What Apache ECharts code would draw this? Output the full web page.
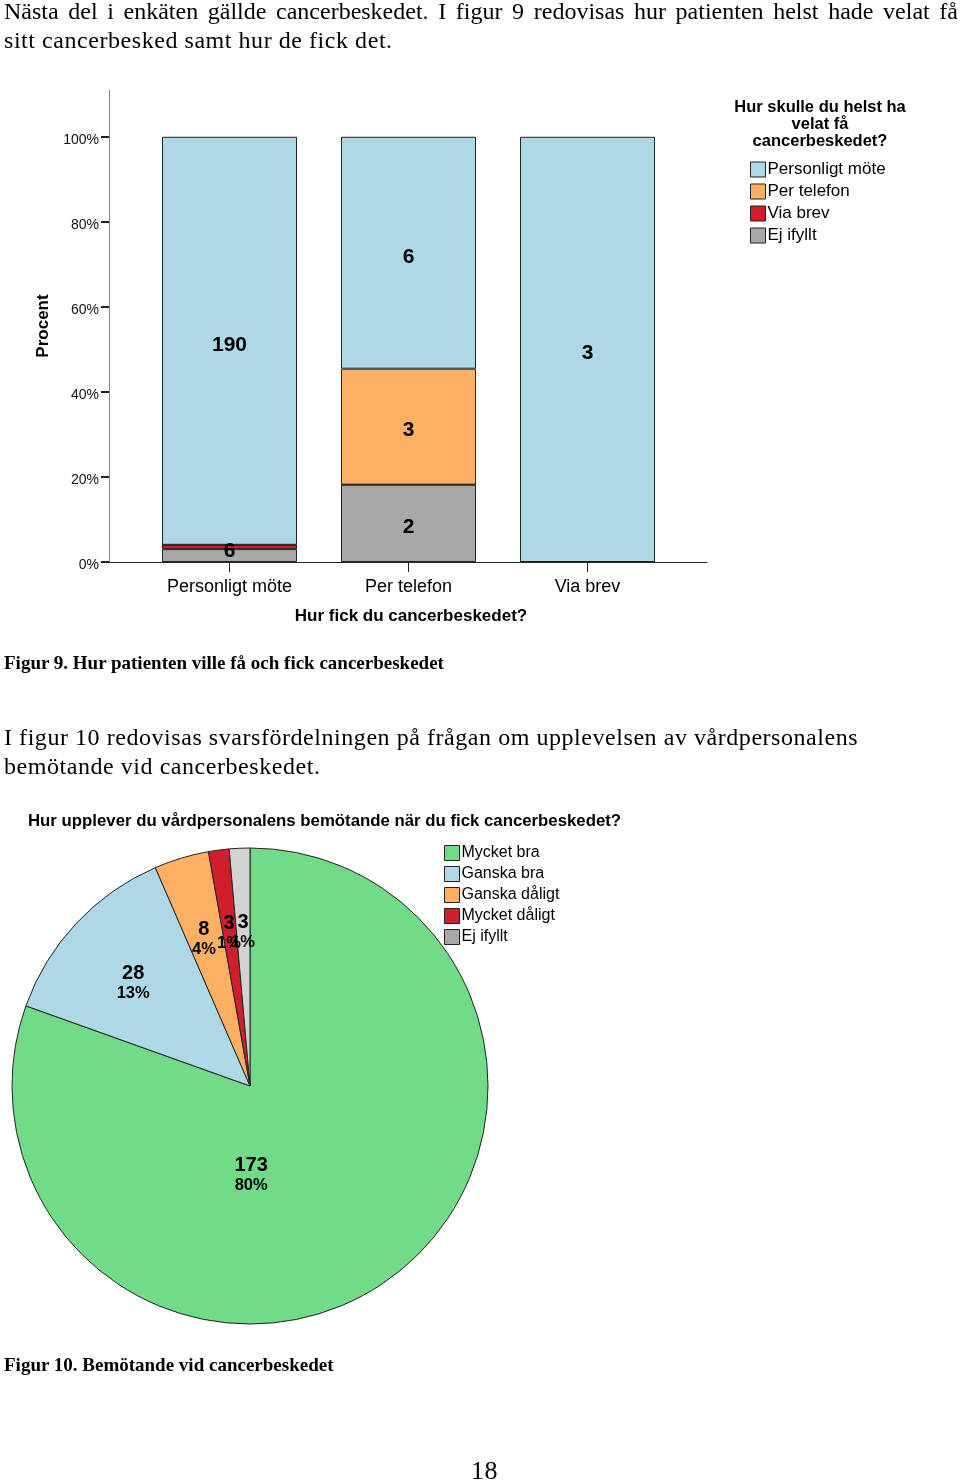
<!DOCTYPE html>
<html>
<head>
<meta charset="utf-8">
<script src="https://cdn.jsdelivr.net/npm/echarts@6/dist/echarts.min.js"></script>
<style>
  html, body { margin: 0; padding: 0; background: #fff; }
  #page { position: relative; width: 960px; height: 1481px; overflow: hidden; }
  #chart { position: absolute; left: 0; top: 0; width: 960px; height: 1481px; }
  .t { position: absolute; font-family: "Liberation Serif", "DejaVu Serif", serif; font-size: 24px; letter-spacing: 0.55px; line-height: 29px; color: #000; white-space: nowrap; }
  .j { text-align: justify; text-align-last: justify; letter-spacing: 0; }
  .cap { font-weight: bold; font-size: 19px; letter-spacing: 0; }
</style>
</head>
<body>
<div id="page">
  <div id="chart"></div>
  <div class="t j" style="left:4px; top:-3px; width:954px;">Nästa del i enkäten gällde cancerbeskedet. I figur 9 redovisas hur patienten helst hade velat få</div>
  <div class="t" style="left:4px; top:26px;">sitt cancerbesked samt hur de fick det.</div>
  <div class="t cap" style="left:4px; top:648px;">Figur 9. Hur patienten ville få och fick cancerbeskedet</div>
  <div class="t" style="left:4px; top:723px;">I figur 10 redovisas svarsfördelningen på frågan om upplevelsen av vårdpersonalens</div>
  <div class="t" style="left:4px; top:752px;">bemötande vid cancerbeskedet.</div>
  <div class="t cap" style="left:4px; top:1350px;">Figur 10. Bemötande vid cancerbeskedet</div>
  <div class="t" style="left:471px; top:1456px; font-size:26px;">18</div>
</div>
<script>
// ---- Figure 9 data ----
const receivedCategories = ['Personligt möte', 'Per telefon', 'Via brev'];
const preferredNames = ['Personligt möte', 'Per telefon', 'Via brev', 'Ej ifyllt'];
const prefPersonligt = [190, 6, 3];
const prefTelefon = [0, 3, 0];
const prefBrev = [2, 0, 0];
const prefEjIfyllt = [6, 2, 0];
const yTicks = [0, 20, 40, 60, 80, 100];

// ---- Figure 10 data ----
const pieNames = ['Mycket bra', 'Ganska bra', 'Ganska dåligt', 'Mycket dåligt', 'Ej ifyllt'];
const pieValues = [173, 28, 8, 3, 3];

const FONT = '"Liberation Sans", Arial, sans-serif';
const barColors = {
  'Personligt möte': '#ADD8E6',
  'Per telefon': '#FDB064',
  'Via brev': '#D01F2A',
  'Ej ifyllt': '#A8A8A8'
};
const pieColors = ['#71DB87', '#ADD8E6', '#FDB064', '#D01F2A', '#D3D3D3'];

const totals = receivedCategories.map((_, i) =>
  prefPersonligt[i] + prefTelefon[i] + prefBrev[i] + prefEjIfyllt[i]);
const countsByName = {
  'Personligt möte': prefPersonligt,
  'Per telefon': prefTelefon,
  'Via brev': prefBrev,
  'Ej ifyllt': prefEjIfyllt
};
// stacking order bottom -> top
const stackOrder = ['Ej ifyllt', 'Via brev', 'Per telefon', 'Personligt möte'];

const barSeries = stackOrder.map((name, si) => ({
  name: name,
  type: 'bar',
  stack: 'pref',
  xAxisIndex: 1,
  yAxisIndex: 1,
  barWidth: 135,
  itemStyle: { color: barColors[name], borderColor: '#222', borderWidth: 1 },
  label: {
    show: true,
    position: 'inside',
    color: '#000',
    fontFamily: FONT,
    fontWeight: 'bold',
    fontSize: 21,
    formatter: p => {
      const c = countsByName[name][p.dataIndex];
      return (p.value >= 2) ? String(c) : '';
    }
  },
  labelLayout: p => ({ dy: (name === 'Ej ifyllt' && p.dataIndex === 0) ? -4 : 4, hideOverlap: false }),
  data: countsByName[name].map((c, i) => c / totals[i] * 100)
}));

const pieTotal = pieValues.reduce((a, b) => a + b, 0);
const pieData = pieNames.map((n, i) => ({ name: n, value: pieValues[i] }));

const chart = echarts.init(document.getElementById('chart'), null, { renderer: 'canvas' });
chart.setOption({
  animation: false,
  textStyle: { fontFamily: FONT },
  grid: [
    { left: 109, top: 90, width: 598, height: 472 },
    { left: 140, top: 90, width: 537, height: 472 }
  ],
  xAxis: [
    {
      gridIndex: 0, type: 'value', min: 0, max: 1,
      axisLine: { show: true, lineStyle: { color: '#222', width: 1 } },
      axisTick: { show: false }, axisLabel: { show: false }, splitLine: { show: false }
    },
    {
      gridIndex: 1, type: 'category', data: receivedCategories,
      axisLine: { show: false },
      axisTick: { show: true, alignWithLabel: true, length: 10, lineStyle: { color: '#222', width: 1 } },
      axisLabel: { color: '#000', fontSize: 18, margin: 16, fontFamily: FONT },
      name: 'Hur fick du cancerbeskedet?',
      nameLocation: 'middle', nameGap: 46,
      nameTextStyle: { color: '#000', fontWeight: 'bold', fontSize: 17, fontFamily: FONT, padding: [0, 0, 0, 5] }
    }
  ],
  yAxis: [
    {
      gridIndex: 0, type: 'value', min: 0, max: 111,
      axisLine: { show: true, lineStyle: { color: '#888', width: 1 } },
      axisTick: { show: true, length: 8, customValues: yTicks, lineStyle: { color: '#222', width: 2 } },
      axisLabel: {
        color: '#111', fontSize: 14, margin: 10, customValues: yTicks, fontFamily: FONT,
        formatter: v => '{p|' + v + '%}',
        rich: { p: { fontSize: 14, fontFamily: FONT, color: '#111', padding: [6, 0, 0, 0] } }
      },
      splitLine: { show: false },
      name: 'Procent', nameLocation: 'middle', nameGap: 55, nameRotate: 90,
      nameTextStyle: { color: '#000', fontWeight: 'bold', fontSize: 17, fontFamily: FONT }
    },
    { gridIndex: 1, type: 'value', min: 0, max: 111, show: false }
  ],
  title: [
    {
      text: 'Hur skulle du helst ha\nvelat få\ncancerbeskedet?',
      left: 815, top: 94, textAlign: 'center',
      textStyle: { fontFamily: FONT, fontWeight: 'bold', fontSize: 16.5, lineHeight: 17, color: '#000' }
    },
    {
      text: 'Hur upplever du vårdpersonalens bemötande när du fick cancerbeskedet?',
      left: 23, top: 808,
      textStyle: { fontFamily: FONT, fontWeight: 'bold', fontSize: 16.8, color: '#000' }
    }
  ],
  legend: [
    {
      orient: 'vertical', left: 745, top: 156,
      data: preferredNames,
      itemWidth: 15, itemHeight: 15, itemGap: 5,
      icon: 'rect',
      itemStyle: { borderColor: '#222', borderWidth: 1 },
      textStyle: { fontFamily: FONT, fontSize: 17, lineHeight: 17, color: '#000', padding: [0, 0, 0, -3] },
      selectedMode: false
    },
    {
      orient: 'vertical', left: 439, top: 840,
      data: pieNames,
      itemWidth: 15, itemHeight: 15, itemGap: 5,
      icon: 'rect',
      itemStyle: { borderColor: '#222', borderWidth: 1 },
      textStyle: { fontFamily: FONT, fontSize: 16, lineHeight: 15.8, color: '#000', padding: [0, 0, 0, -3] },
      selectedMode: false
    }
  ],
  series: barSeries.concat([
    {
      name: 'bemotande',
      type: 'pie',
      center: [250, 1086],
      radius: [0, 238],
      startAngle: 90,
      clockwise: true,
      label: { show: false },
      labelLine: { show: false },
      itemStyle: { borderColor: '#222', borderWidth: 1 },
      color: pieColors,
      data: pieData
    },
    {
      name: 'bemotandeLabels',
      type: 'pie',
      center: [250, 1086],
      radius: [76, 238],
      startAngle: 90,
      clockwise: true,
      silent: true,
      legendHoverLink: false,
      avoidLabelOverlap: false,
      labelLayout: { hideOverlap: false },
      itemStyle: { color: 'rgba(0,0,0,0)', borderWidth: 0 },
      labelLine: { show: false },
      label: {
        show: true,
        position: 'inside',
        offset: [0, 6],
        formatter: p => '{a|' + p.value + '}\n{b|' + Math.round(p.value / pieTotal * 100) + '%}',
        rich: {
          a: { fontFamily: FONT, fontWeight: 'bold', fontSize: 20, color: '#000', lineHeight: 21 },
          b: { fontFamily: FONT, fontWeight: 'bold', fontSize: 16.5, color: '#000', lineHeight: 19 }
        }
      },
      data: pieData.map((d, i) => i === 0
        ? { name: d.name, value: d.value, label: { offset: [-91, -42] } }
        : { name: d.name, value: d.value })
    }
  ])
});
</script>
</body>
</html>
